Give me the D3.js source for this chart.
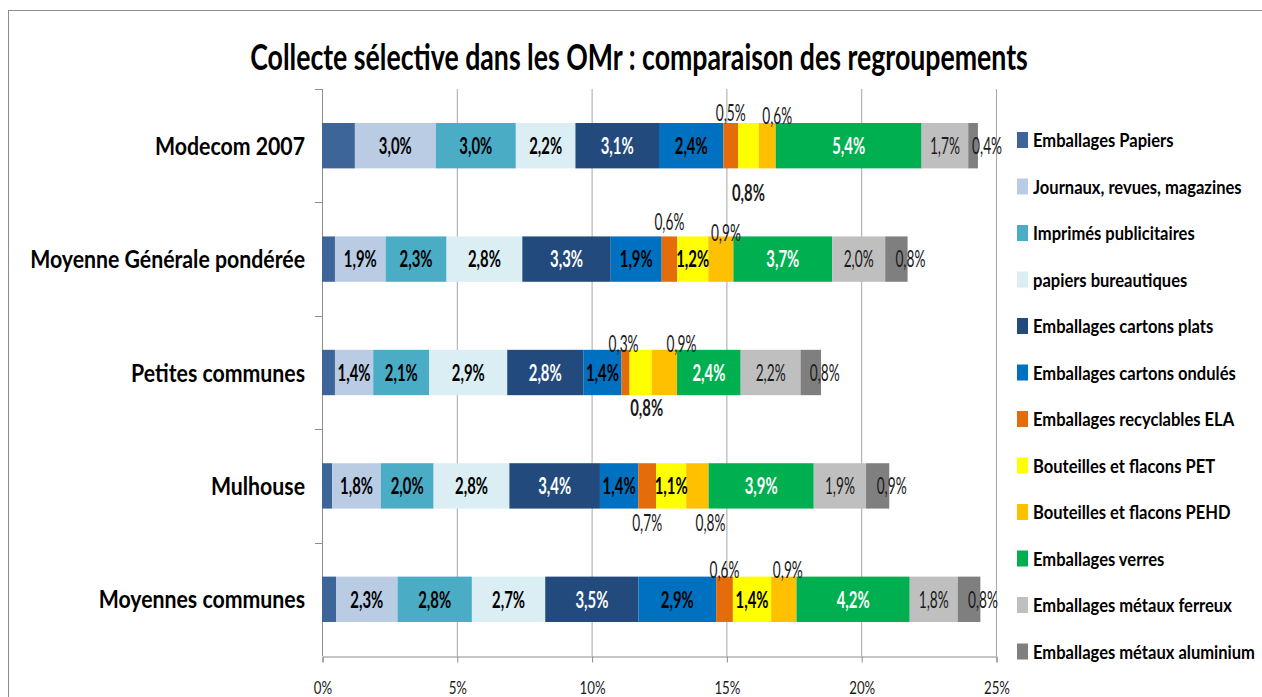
<!DOCTYPE html>
<html>
  <head>
    <meta charset="utf-8">
    <script type="text/javascript" src="https://d3js.org/d3.v7.min.js"></script>
    <style>
      body { margin: 0; background: #fff; }
      svg text { font-family: Lato, "Open Sans", sans-serif; }
    </style>
  </head>
  <body>
    <script type="text/javascript">
        //categories (rows, top to bottom)
        var categories = ["Modecom 2007", "Moyenne Générale pondérée", "Petites communes", "Mulhouse", "Moyennes communes"];

        //series (stack order, left to right)
        var series = ["Emballages Papiers", "Journaux, revues, magazines", "Imprimés publicitaires", "papiers bureautiques",
                      "Emballages cartons plats", "Emballages cartons ondulés", "Emballages recyclables ELA",
                      "Bouteilles et flacons PET", "Bouteilles et flacons PEHD", "Emballages verres",
                      "Emballages métaux ferreux", "Emballages métaux aluminium"];

        //values in % (one array per row, in series order)
        var modecom2007      = [1.22, 3.00, 2.97, 2.21, 3.10, 2.39, 0.54, 0.77, 0.63, 5.41, 1.73, 0.36];
        var moyenneGenerale  = [0.48, 1.88, 2.26, 2.81, 3.28, 1.89, 0.57, 1.16, 0.93, 3.66, 1.97, 0.83];
        var petitesCommunes  = [0.48, 1.42, 2.08, 2.89, 2.82, 1.42, 0.30, 0.82, 0.94, 2.36, 2.22, 0.76];
        var mulhouse         = [0.38, 1.80, 1.96, 2.81, 3.36, 1.42, 0.66, 1.12, 0.83, 3.90, 1.94, 0.86];
        var moyennesCommunes = [0.52, 2.28, 2.76, 2.72, 3.46, 2.88, 0.62, 1.42, 0.94, 4.20, 1.78, 0.84];

        var xTicks = [0, 5, 10, 15, 20, 25];

        var colors = ["#3e6597", "#b9cce4", "#4bacc6", "#daeef3", "#234a7d", "#0070c0",
                      "#e46c0a", "#ffff00", "#ffc000", "#00b050", "#bfbfbf", "#7f7f7f"];

        //label look per series: weight, colour (null = no label)
        var labelStyle = [null, ["bold", "#000"], ["bold", "#000"], ["bold", "#000"], ["bold", "#fff"], ["bold", "#000"],
                          ["normal", "#1a1a1a"], ["bold", "#000"], ["normal", "#1a1a1a"], ["bold", "#fff"],
                          ["normal", "#1a1a1a"], ["normal", "#1a1a1a"]];

        //small segments whose label sits outside the bar: [side, dx, dy]
        var outside = [
            {6: ["above", 0, -2], 7: ["below", 0, 33], 8: ["above", 10, 1]},
            {6: ["above", 0, -6], 8: ["above", 5, 5]},
            {6: ["above", -2, 2], 7: ["below", 6, 21], 8: ["above", 17, 2]},
            {6: ["below", 0, 22], 8: ["below", 13, 22]},
            {6: ["above", 0, 1], 8: ["above", 4, 1]}
        ];

        var rows = [modecom2007, moyenneGenerale, petitesCommunes, mulhouse, moyennesCommunes];
        var table = categories.map(function(c, i) {
            var o = {cat: c, row: i};
            series.forEach(function(s, j) { o[s] = rows[i][j]; });
            return o;
        });

        var width = 1262, height = 697;
        var plotLeft = 322, plotRight = 996, plotTop = 89, plotBottom = 656;

        var svg = d3.select("body").append("svg")
                    .attr("width", width)
                    .attr("height", height);

        //the picture is narrow: texts get squeezed sideways
        function calib(str, size, weight, target) {
            var t = svg.append("text").attr("font-size", size).attr("font-weight", weight).text(str);
            var w = t.node().getComputedTextLength();
            t.remove();
            return target / w;
        }
        function squeeze(sel, k) {
            sel.each(function() {
                var t = d3.select(this);
                var tx = +t.attr("x") || 0, ty = +t.attr("y") || 0;
                t.attr("x", 0).attr("y", 0)
                 .attr("transform", "translate(" + tx + "," + ty + ") scale(" + k + ",1)");
            });
        }

        //frame
        svg.append("rect")
            .attr("x", 8.5).attr("y", 10.5)
            .attr("width", width).attr("height", height)
            .attr("fill", "none").attr("stroke", "#8c8c8c");

        var x = d3.scaleLinear().domain([0, 25]).range([plotLeft, plotRight]);
        var y = d3.scaleBand().domain(categories).range([plotTop, plotBottom])
                  .paddingInner(0.6).paddingOuter(0.3);

        var fr = d3.formatLocale({decimal: ",", thousands: " ", grouping: [3], currency: ["", " €"]});
        var fmt = fr.format(".1f");

        //grid
        svg.append("g")
            .selectAll("line")
            .data(xTicks.slice(1))
            .enter().append("line")
            .attr("x1", function(d) { return x(d) + 0.5; })
            .attr("x2", function(d) { return x(d) + 0.5; })
            .attr("y1", plotTop).attr("y2", plotBottom)
            .attr("stroke", "#a6a6a6");

        //x axis
        var xAxis = d3.axisBottom(x).tickValues(xTicks).tickSize(6)
                      .tickFormat(function(d) { return d + "%"; });
        var gx = svg.append("g").attr("transform", "translate(0.5," + (plotBottom + 0.5) + ")").call(xAxis);
        gx.select(".domain").attr("stroke", "#8c8c8c");
        gx.selectAll(".tick line").attr("stroke", "#8c8c8c");
        var kTick = calib("10%", 18, "normal", 26);
        gx.selectAll("text").attr("font-size", 18).attr("fill", "#1a1a1a")
          .attr("dy", null).attr("y", 37).attr("x", 0)
          .call(squeeze, kTick);

        //y axis line + separators
        var step = y.step();
        svg.append("line")
            .attr("x1", plotLeft + 0.5).attr("x2", plotLeft + 0.5)
            .attr("y1", plotTop).attr("y2", plotBottom)
            .attr("stroke", "#8c8c8c");
        svg.append("g")
            .selectAll("line")
            .data(d3.range(categories.length))
            .enter().append("line")
            .attr("x1", plotLeft - 7).attr("x2", plotLeft)
            .attr("y1", function(d) { return Math.round(plotTop + d * step) + 0.5; })
            .attr("y2", function(d) { return Math.round(plotTop + d * step) + 0.5; })
            .attr("stroke", "#8c8c8c");

        //category labels
        var kCat = calib("Moyenne Générale pondérée", 25, "bold", 275);
        svg.append("g")
            .selectAll("text")
            .data(categories)
            .enter().append("text")
            .attr("x", 305)
            .attr("y", function(d) { return y(d) + y.bandwidth() / 2; })
            .attr("dy", "0.36em")
            .attr("text-anchor", "end")
            .attr("font-size", 25)
            .attr("font-weight", "bold")
            .text(function(d) { return d; })
            .call(squeeze, kCat);

        //stacked bars
        var stack = d3.stack().keys(series)(table);
        var layer = svg.append("g")
            .selectAll("g")
            .data(stack)
            .enter().append("g")
            .attr("fill", function(d, i) { return colors[i]; });

        layer.selectAll("rect")
            .data(function(d) { return d; })
            .enter().append("rect")
            .attr("x", function(d) { return x(d[0]); })
            .attr("width", function(d) { return x(d[1]) - x(d[0]); })
            .attr("y", function(d) { return y(d.data.cat); })
            .attr("height", y.bandwidth());

        //value labels
        var labels = [];
        stack.forEach(function(s, j) {
            if (!labelStyle[j]) return;
            s.forEach(function(d) {
                var r = d.data.row;
                var cx = (x(d[0]) + x(d[1])) / 2;
                var lb = {text: fmt(d[1] - d[0]) + "%", weight: labelStyle[j][0], color: labelStyle[j][1],
                          x: cx, y: y(d.data.cat) + y.bandwidth() / 2, dy: "0.36em", anchor: "middle"};
                var o = outside[r][j];
                if (o) {
                    lb.x = cx + o[1];
                    lb.dy = null;
                    lb.color = "#1a1a1a";
                    lb.y = o[0] == "above" ? y(d.data.cat) + o[2] : y(d.data.cat) + y.bandwidth() + o[2];
                }
                //last label starts near the middle of its (thin) segment
                if (j == 11) { lb.anchor = "start"; lb.x = Math.max(cx - 1, x(d[1]) - 14); }
                labels.push(lb);
            });
        });

        var kBold = calib("3,0%", 23, "bold", 33);
        var kNorm = calib("1,7%", 23, "normal", 30);
        svg.append("g")
            .selectAll("text")
            .data(labels)
            .enter().append("text")
            .attr("x", function(d) { return d.x; })
            .attr("y", function(d) { return d.y; })
            .attr("dy", function(d) { return d.dy; })
            .attr("text-anchor", function(d) { return d.anchor; })
            .attr("font-size", 23)
            .attr("font-weight", function(d) { return d.weight; })
            .attr("fill", function(d) { return d.color; })
            .text(function(d) { return d.text; })
            .each(function(d) { d3.select(this).call(squeeze, d.weight == "bold" ? kBold : kNorm); });

        //legend
        var kLeg = calib("Emballages métaux aluminium", 19.5, "bold", 222);
        var legend = svg.append("g")
            .selectAll("g")
            .data(series)
            .enter().append("g")
            .attr("transform", function(d, i) { return "translate(1017," + (140 + i * 46.5) + ")"; });
        legend.append("rect")
            .attr("x", 0).attr("y", -8)
            .attr("width", 11).attr("height", 16)
            .attr("fill", function(d, i) { return colors[i]; });
        legend.append("text")
            .attr("x", 16).attr("dy", "0.36em")
            .attr("font-size", 19.5)
            .attr("font-weight", "bold")
            .text(function(d) { return d; })
            .call(squeeze, kLeg);

        //title
        var title = "Collecte sélective dans les OMr : comparaison des regroupements";
        var kTitle = calib(title, 37, "bold", 778);
        svg.append("text")
            .attr("x", 639).attr("y", 70)
            .attr("text-anchor", "middle")
            .attr("font-size", 37)
            .attr("font-weight", "bold")
            .text(title)
            .call(squeeze, kTitle);
    </script>
  </body>
</html>
